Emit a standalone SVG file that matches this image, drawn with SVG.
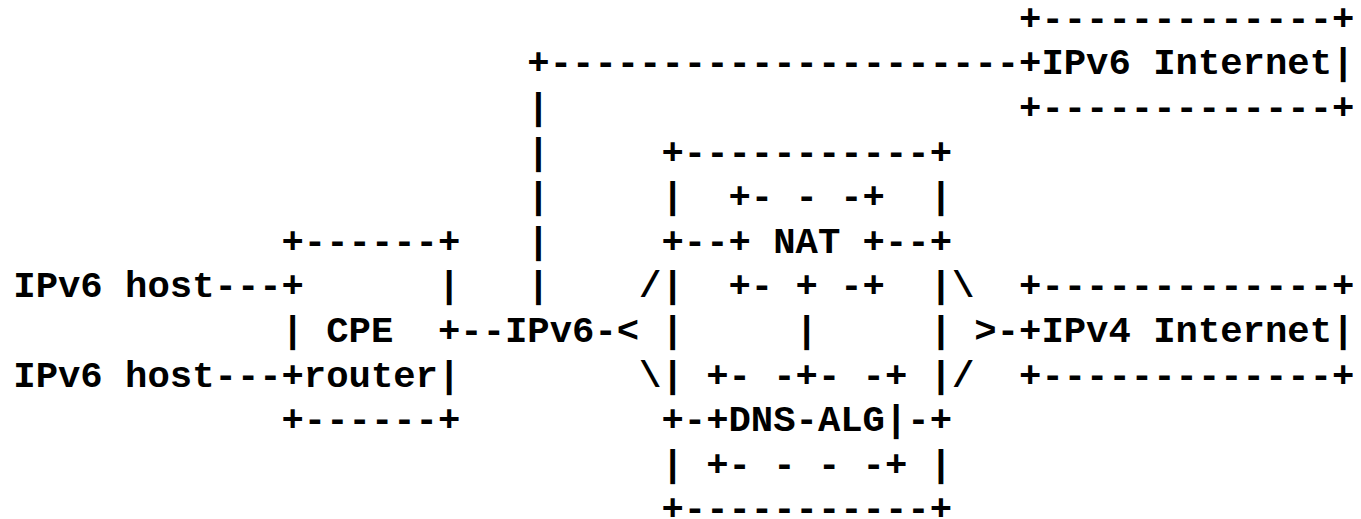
<svg xmlns="http://www.w3.org/2000/svg" width="1361" height="519" viewBox="0 0 1361 519" xml:space="preserve">
<style>
text { font-family: "Liberation Mono", "DejaVu Sans Mono", monospace; font-weight: bold; font-size: 37.25px; fill: #000; white-space: pre; }
</style>
<rect width="1361" height="519" fill="#fff"/>
<g transform="translate(1.5,1.3)">
<g id="ipv6-internet">
<text x="1017.55" y="28.5">+-------------+</text>
<text x="1017.55" y="73.1">+IPv6 Internet|</text>
<text x="1017.55" y="117.7">+-------------+</text>
</g>
<g id="ipv4-internet">
<text x="1017.55" y="296.1">+-------------+</text>
<text x="1017.55" y="340.7">+IPv4 Internet|</text>
<text x="1017.55" y="385.3">+-------------+</text>
</g>
<g id="host-1"><text x="11.8" y="296.1">IPv6 host</text></g>
<g id="host-2"><text x="11.8" y="385.3">IPv6 host</text></g>
<g id="cpe-router">
<text x="280" y="251.5">+------+</text>
<text x="280" y="296.1">+</text>
<text x="436.45" y="296.1">|</text>
<text x="280" y="340.7">| CPE  +</text>
<text x="280" y="385.3">+router|</text>
<text x="280" y="429.9">+------+</text>
</g>
<g id="translator">
<text x="659.95" y="162.3">+-----------+</text>
<text x="659.95" y="206.9">|</text><text x="928.15" y="206.9">|</text>
<text x="659.95" y="251.5">+--</text><text x="883.45" y="251.5">--+</text>
<text x="659.95" y="296.1">|</text><text x="928.15" y="296.1">|</text>
<text x="659.95" y="340.7">|</text><text x="928.15" y="340.7">|</text>
<text x="659.95" y="385.3">|</text><text x="928.15" y="385.3">|</text>
<text x="659.95" y="429.9">+-</text><text x="905.8" y="429.9">-+</text>
<text x="659.95" y="474.5">|</text><text x="928.15" y="474.5">|</text>
<text x="659.95" y="519.1">+-----------+</text>
<g id="nat">
<text x="727" y="206.9">+- - -+</text>
<text x="727" y="251.5">+ NAT +</text>
<text x="727" y="296.1">+- + -+</text>
</g>
<text x="794.05" y="340.7">|</text>
<g id="dns-alg">
<text x="704.65" y="385.3">+- -+- -+</text>
<text x="704.65" y="429.9">+DNS-ALG|</text>
<text x="704.65" y="474.5">+- - - -+</text>
</g>
</g>
<g id="connectors">
<text x="525.85" y="73.1">+---------------------</text>
<text x="525.85" y="117.7">|</text>
<text x="525.85" y="162.3">|</text>
<text x="525.85" y="206.9">|</text>
<text x="525.85" y="251.5">|</text>
<text x="525.85" y="296.1">|</text>
<text x="213.05" y="296.1">---</text>
<text x="213.05" y="385.3">---</text>
<text x="458.8" y="340.7">--IPv6-&lt;</text>
<text x="637.6" y="296.1">/</text>
<text x="637.6" y="385.3">\</text>
<text x="950.5" y="296.1">\</text>
<text x="972.85" y="340.7">&gt;-</text>
<text x="950.5" y="385.3">/</text>
</g>
</g>
</svg>
